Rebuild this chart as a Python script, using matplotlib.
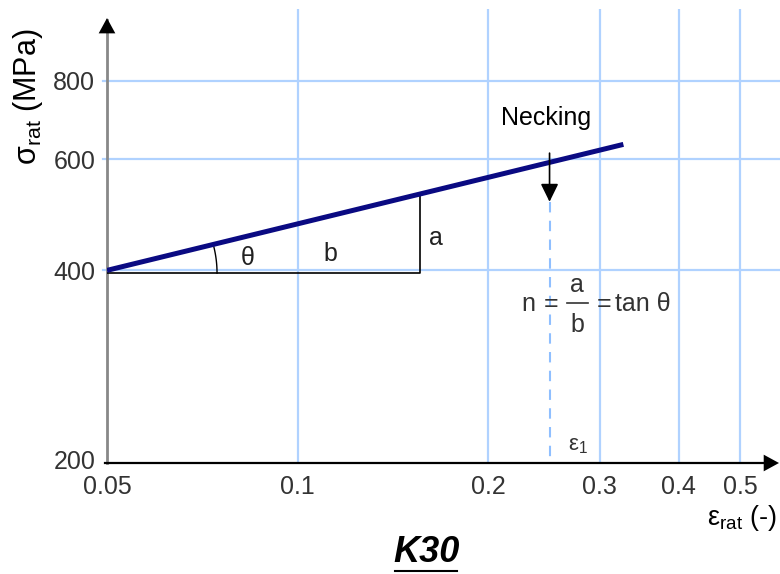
import numpy as np
import matplotlib.pyplot as plt
from matplotlib.ticker import NullLocator
from matplotlib.lines import Line2D

plt.rcParams['font.family'] = ['Liberation Sans', 'DejaVu Sans']
plt.rcParams['mathtext.fontset'] = 'custom'
plt.rcParams['mathtext.rm'] = 'Liberation Sans'
plt.rcParams['mathtext.it'] = 'Liberation Sans:italic'

# values
x_ticks = [0.05, 0.1, 0.2, 0.3, 0.4, 0.5]
x_labels = ['0.05', '0.1', '0.2', '0.3', '0.4', '0.5']
y_ticks = [200, 400, 600, 800]
y_labels = ['200', '400', '600', '800']
x_grid = [0.1, 0.2, 0.3, 0.4, 0.5]
y_grid = [400, 600, 800]

eps_curve = [0.05, 0.327]      # flow curve, log-log straight line
sig_curve = [400, 634]
eps_neck = 0.25                # necking strain eps_1
neck_arrow_sig = [614, 514]    # arrow from / to
tri_eps = [0.05, 0.156, 0.156]  # slope triangle
tri_sig = [396, 396, 528]

W, H = 780, 574
fig = plt.figure(figsize=(W / 100, H / 100), dpi=100)
ax = fig.add_axes([107 / W, (H - 463) / H, (W - 107) / W, (463 - 9) / H])
ax.set_xscale('log')
ax.set_yscale('log')
ax.set_xlim(0.05, 0.578)
ax.set_ylim(197.8, 1040)
for s in ax.spines.values():
    s.set_visible(False)

ax.set_xticks(x_ticks, x_labels)
ax.set_yticks(y_ticks, y_labels)
ax.xaxis.set_minor_locator(NullLocator())
ax.yaxis.set_minor_locator(NullLocator())
ax.tick_params(axis='both', length=0, labelsize=18, labelcolor='#333333')
ax.tick_params(axis='x', pad=9)
ax.tick_params(axis='y', pad=8.5)

grid_c = '#b0d2ff'
for gx in x_grid:
    ax.axvline(gx, color=grid_c, lw=1.6, zorder=1)
for gy in y_grid:
    ax.axhline(gy, xmin=-0.006, xmax=1, color=grid_c, lw=1.6, zorder=1, clip_on=False)

# axes with arrow heads
ax.axvline(0.05, ymin=0, ymax=0.975, color='#888888', lw=2, zorder=3, clip_on=False)
ax.axhline(197.8, xmin=-0.003, xmax=0.99, color='black', lw=1.6, zorder=3, clip_on=False)
head = dict(arrowstyle='-|>,head_length=0.55,head_width=0.3', color='black',
            lw=0, mutation_scale=20, shrinkA=0, shrinkB=0)
ax.annotate('', xy=(0.05, 0.98), xycoords=('data', 'axes fraction'),
            xytext=(0, -14), textcoords='offset pixels', arrowprops=head,
            annotation_clip=False, zorder=4)
ax.annotate('', xy=(0.9985, 197.8), xycoords=('axes fraction', 'data'),
            xytext=(-14, 0), textcoords='offset pixels', arrowprops=head,
            annotation_clip=False, zorder=4)

# flow curve
ax.plot(eps_curve, sig_curve, color='#0a0a82', lw=3.6, solid_capstyle='butt', zorder=5)

# slope triangle
ax.plot(tri_eps, tri_sig, color='black', lw=1.2, zorder=4)

# angle arc around the origin of the curve
n_slope = np.log10(sig_curve[1] / sig_curve[0]) / np.log10(eps_curve[1] / eps_curve[0])
t = np.linspace(0, np.arctan(n_slope), 30)
r_px = 110
arc_x = 10 ** (np.log10(eps_curve[0]) + r_px / 633 * np.cos(t))
arc_y = 10 ** (np.log10(tri_sig[0]) + r_px / 630 * np.sin(t))
ax.plot(arc_x, arc_y, color='black', lw=1.0, zorder=4)

# necking
ax.plot([eps_neck, eps_neck], [neck_arrow_sig[1], 197.8], color='#8fbfff', lw=1.5,
        dashes=(5, 4), zorder=2)
ax.annotate('', xy=(eps_neck, neck_arrow_sig[1]), xytext=(eps_neck, neck_arrow_sig[0]),
            arrowprops=dict(arrowstyle='-|>,head_length=0.55,head_width=0.27',
                            color='black', lw=1.2, mutation_scale=20,
                            shrinkA=0, shrinkB=0), zorder=6)


def px(x, y):
    return (x / W, 1 - y / H)


tf = fig.transFigure
fs = 18
fig.text(*px(546, 118), 'Necking', fontsize=fs, ha='center', va='center', transform=tf)
fig.text(*px(248, 258), 'θ', fontsize=fs, ha='center', va='center', color='#222222')
fig.text(*px(330, 254), 'b', fontsize=fs, ha='center', va='center', color='#222222')
fig.text(*px(436, 238), 'a', fontsize=fs, ha='center', va='center', color='#222222')
fig.text(*px(578, 446), 'ε$_1$', fontsize=16, ha='center', va='center', color='#333333')

# n = a/b = tan theta
fc = '#333333'
fig.text(*px(528, 304), 'n', fontsize=fs, ha='center', va='center', color=fc)
fig.text(*px(551, 304), '=', fontsize=fs, ha='center', va='center', color=fc)
fig.text(*px(577, 285), 'a', fontsize=fs, ha='center', va='center', color=fc)
fig.text(*px(577, 325), 'b', fontsize=fs, ha='center', va='center', color=fc)
fig.add_artist(Line2D([567 / W, 588 / W], [1 - 303 / H, 1 - 303 / H], color=fc, lw=1.2))
fig.text(*px(604, 304), '=', fontsize=fs, ha='center', va='center', color=fc)
fig.text(*px(615, 304), 'tan θ', fontsize=fs, ha='left', va='center', color=fc)

# axis labels
fig.text(*px(28, 97), 'σ$_\\mathrm{rat}$ (MPa)', fontsize=22, rotation=90,
         ha='center', va='center')
fig.text(*px(777, 525), 'ε$_\\mathrm{rat}$ (-)', fontsize=19.5, ha='right', va='baseline')

# title, underlined
title = fig.text(*px(427, 553), 'K30', fontsize=26, fontweight='bold', fontstyle='italic',
                 ha='center', va='center')
fig.canvas.draw()
bb = title.get_window_extent()
uy = 1 - 571 / H
fig.add_artist(Line2D([bb.x0 / W + 0.002, bb.x1 / W - 0.004], [uy, uy], color='black', lw=1.5))

fig.savefig('out.png', dpi=100)
